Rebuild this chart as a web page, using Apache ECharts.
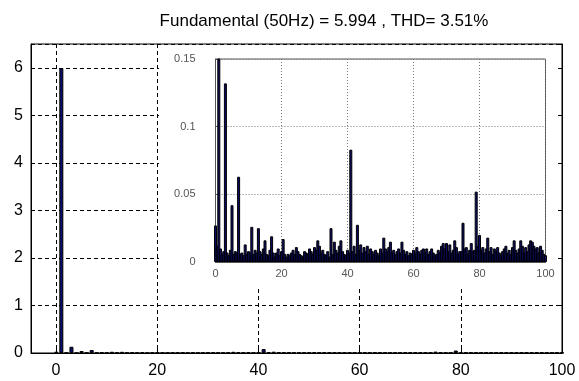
<!DOCTYPE html>
<html>
<head>
<meta charset="utf-8">
<script src="https://cdn.jsdelivr.net/npm/echarts@6/dist/echarts.min.js"></script>
<style>html,body{margin:0;padding:0;background:#fff;}#c{width:579px;height:381px;}</style>
</head>
<body>
<div id="c"></div>
<script>
// Harmonic order (step 0.5) and magnitude
const harmonicOrder = [];
for (let i = 0; i <= 200; i++) harmonicOrder.push(i / 2);
const magnitude = [
  0.027,0.012,5.994,0.010,0.006,0.008,0.132,0.007,0.005,0.009,
  0.042,0.006,0.008,0.007,0.063,0.006,0.007,0.005,0.013,0.006,
  0.008,0.007,0.026,0.006,0.009,0.007,0.025,0.008,0.006,0.010,
  0.016,0.006,0.005,0.009,0.019,0.007,0.004,0.007,0.010,0.005,
  0.008,0.017,0.006,0.004,0.006,0.005,0.007,0.009,0.006,0.011,
  0.008,0.006,0.005,0.004,0.008,0.007,0.006,0.010,0.008,0.006,
  0.011,0.009,0.016,0.012,0.007,0.009,0.006,0.005,0.008,0.004,
  0.025,0.006,0.015,0.009,0.007,0.012,0.016,0.008,0.006,0.005,
  0.009,0.007,0.083,0.008,0.012,0.006,0.0275,0.009,0.013,0.007,
  0.011,0.008,0.012,0.006,0.010,0.008,0.006,0.009,0.007,0.005,
  0.010,0.007,0.018,0.010,0.008,0.011,0.015,0.007,0.009,0.006,
  0.008,0.010,0.007,0.015,0.009,0.006,0.008,0.005,0.007,0.006,
  0.009,0.007,0.011,0.008,0.006,0.009,0.010,0.007,0.010,0.006,
  0.008,0.010,0.007,0.005,0.006,0.009,0.007,0.012,0.014,0.010,
  0.014,0.008,0.013,0.007,0.009,0.016,0.011,0.006,0.008,0.008,
  0.029,0.010,0.011,0.006,0.009,0.014,0.008,0.009,0.052,0.012,
  0.020,0.009,0.011,0.007,0.010,0.018,0.008,0.011,0.006,0.010,
  0.008,0.011,0.007,0.005,0.008,0.010,0.012,0.007,0.009,0.006,
  0.011,0.016,0.009,0.007,0.010,0.016,0.012,0.007,0.011,0.008,
  0.013,0.016,0.015,0.012,0.010,0.011,0.007,0.012,0.009,0.006,
  0.005
];
const mainXTicks = [0, 20, 40, 60, 80, 100];
const mainYTicks = [0, 1, 2, 3, 4, 5, 6];
const insetXTicks = [0, 20, 40, 60, 80, 100];
const insetYTicks = [0, 0.05, 0.1, 0.15];
const titleText = 'Fundamental (50Hz) = 5.994 , THD= 3.51%';

const fullData = harmonicOrder.map((h, i) => [h, magnitude[i]]);
const integerData = fullData.filter(d => Number.isInteger(d[0]));

const FONT = "'Liberation Sans', Arial, sans-serif";
const BAR = '#0c0c66';

const chart = echarts.init(document.getElementById('c'), null, {renderer: 'canvas'});
chart.setOption({
  animation: false,
  backgroundColor: '#fff',
  title: {
    text: titleText, left: 319, top: 8, textAlign: 'center',
    textStyle: {fontFamily: FONT, fontSize: 17, fontWeight: 'normal', color: '#000'}
  },
  grid: [
    {left: 31, right: 17, top: 44, bottom: 28, show: true, borderColor: '#000', borderWidth: 1, backgroundColor: 'transparent', z: 0},
    {left: 56, right: 17, top: 44, bottom: 28, show: false, z: 0},
    {left: 215.5, right: 33.5, top: 59, bottom: 119, show: true, borderColor: '#555', borderWidth: 1, backgroundColor: '#fff', z: 5}
  ],
  xAxis: [
    {gridIndex: 0, type: 'value', min: -5, max: mainXTicks[mainXTicks.length - 1],
     axisLine: {show: true, onZero: false, lineStyle: {color: '#000'}}, axisTick: {show: false},
     axisLabel: {show: false}, splitLine: {show: false}, z: 0},
    {gridIndex: 1, type: 'value', min: mainXTicks[0], max: mainXTicks[mainXTicks.length - 1], interval: 20,
     axisLine: {show: false}, axisTick: {show: true, inside: true, length: 4, lineStyle: {color: '#000'}},
     axisLabel: {show: true, margin: 10, color: '#000', fontFamily: FONT, fontSize: 16},
     splitLine: {show: true, lineStyle: {color: '#000', width: 1, type: [4, 3]}}, z: 0},
    {gridIndex: 2, type: 'value', min: insetXTicks[0], max: insetXTicks[insetXTicks.length - 1], interval: 20,
     axisLine: {show: true, onZero: false, lineStyle: {color: '#555'}},
     axisTick: {show: true, inside: true, length: 3, lineStyle: {color: '#555'}},
     axisLabel: {show: true, margin: 6, color: '#555', fontFamily: FONT, fontSize: 11},
     splitLine: {show: true, lineStyle: {color: '#777', width: 1, type: [1, 2]}}, z: 5}
  ],
  yAxis: [
    {gridIndex: 0, type: 'value', min: 0, max: 6.5, interval: 1,
     axisLine: {show: true, onZero: false, lineStyle: {color: '#000'}},
     axisTick: {show: true, inside: true, length: 4, lineStyle: {color: '#000'}},
     axisLabel: {show: true, showMaxLabel: false, margin: 8, color: '#000', fontFamily: FONT, fontSize: 16,
       formatter: v => mainYTicks.includes(v) ? String(v) : ''},
     splitLine: {show: true, lineStyle: {color: '#000', width: 1, type: [4, 3]}}, z: 0},
    {gridIndex: 0, type: 'value', min: 0, max: 6.5, interval: 1, position: 'right',
     axisLine: {show: true, onZero: false, lineStyle: {color: '#000'}},
     axisTick: {show: true, inside: true, length: 4, lineStyle: {color: '#000'}},
     axisLabel: {show: false}, splitLine: {show: false}, z: 8},
    {gridIndex: 1, type: 'value', min: 0, max: 1, show: false},
    {gridIndex: 2, type: 'value', min: insetYTicks[0], max: insetYTicks[insetYTicks.length - 1], interval: 0.05,
     axisLine: {show: true, onZero: false, lineStyle: {color: '#555'}},
     axisTick: {show: true, inside: true, length: 3, lineStyle: {color: '#555'}},
     axisLabel: {show: true, margin: 20, color: '#555', fontFamily: FONT, fontSize: 11},
     splitLine: {show: true, lineStyle: {color: '#777', width: 1, type: [1, 2]}}, z: 5}
  ],
  graphic: [
    {type: 'rect', shape: {x: 159, y: 45, width: 402, height: 242}, style: {fill: '#fff'}, z: 3, silent: true}
  ],
  series: [
    {type: 'bar', xAxisIndex: 0, yAxisIndex: 0, data: integerData, barWidth: 4,
     itemStyle: {color: BAR, borderColor: '#000', borderWidth: 1}, z: 2},
    {type: 'bar', xAxisIndex: 2, yAxisIndex: 3, data: fullData, barWidth: 3, clip: true,
     itemStyle: {color: BAR, borderColor: '#000', borderWidth: 1}, z: 6}
  ]
});
</script>
</body>
</html>
